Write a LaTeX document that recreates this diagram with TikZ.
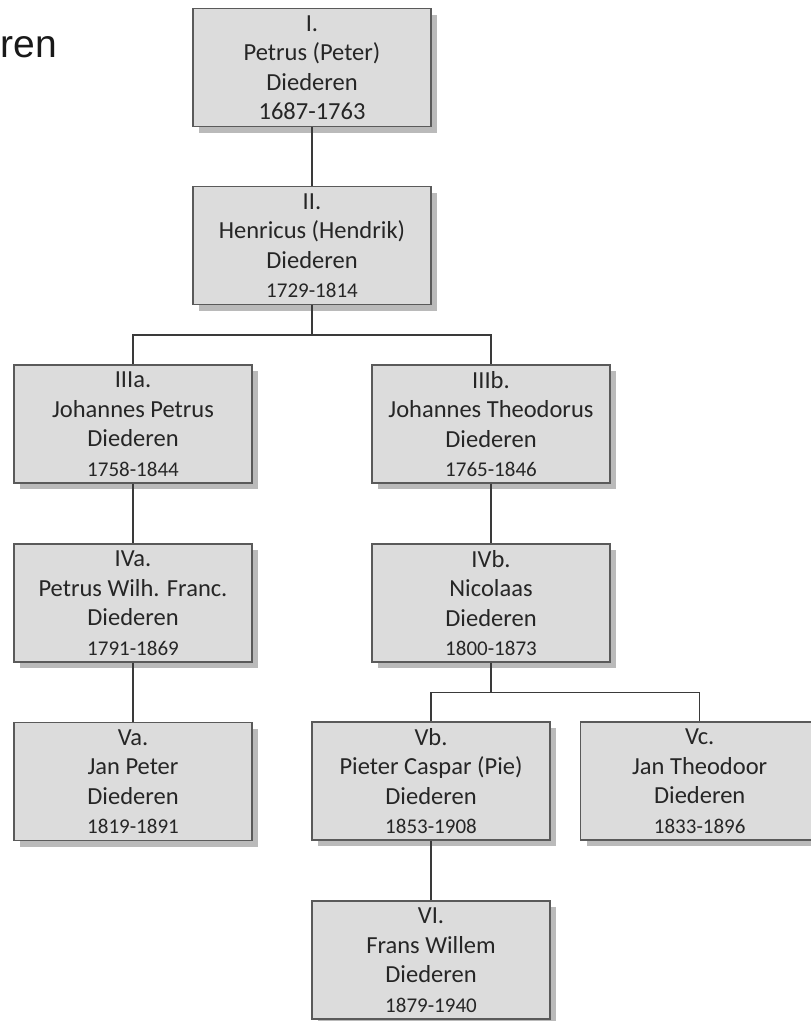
\documentclass[tikz,border=0pt]{standalone}
\usepackage{fontspec}
\setmainfont{Carlito}
\newfontfamily\titlefont{Liberation Sans}
\usetikzlibrary{shadows}
\definecolor{boxfill}{HTML}{DCDCDC}
\definecolor{boxline}{HTML}{5A5A5A}
\definecolor{shadec}{HTML}{BABABA}
\definecolor{linkc}{HTML}{3A3A3A}
\definecolor{txtc}{HTML}{262626}
\newcommand\yrsmall{\fontsize{21}{29.5}\selectfont}
\begin{document}
\begin{tikzpicture}[x=1pt,y=-1pt,
  person/.style={draw=boxline, line width=1.4pt, fill=boxfill,
    minimum width=238pt, minimum height=118pt, inner sep=0pt,
    align=center, text=txtc, font=\fontsize{24.5}{29.5}\selectfont,
    drop shadow={shadow xshift=6pt, shadow yshift=-6pt, fill=shadec, opacity=1}},
  link/.style={draw=linkc, line width=1.5pt}]
\useasboundingbox (0,0) rectangle (811,1021);
\clip (0,0) rectangle (811,1021);
\fill[white] (0,0) rectangle (811,1021);

\node[font=\titlefont\fontsize{39}{39}\selectfont, anchor=base west,
  inner sep=0pt, text=black!90] (title) at (0.5,57) {ren};

\node[person] (i)    at (312,67.5)  {I.\\Petrus (Peter)\\Diederen\\1687-1763};
\node[person] (ii)   at (312,245.5) {II.\\Henricus (Hendrik)\\Diederen\\{\yrsmall 1729-1814}};
\node[person] (iiia) at (133,424)   {IIIa.\\Johannes Petrus\\Diederen\\{\yrsmall 1758-1844}};
\node[person] (iiib) at (491,424)   {IIIb.\\Johannes Theodorus\\Diederen\\{\yrsmall 1765-1846}};
\node[person] (iva)  at (133,603)   {IVa.\\Petrus Wilh. Franc.\\Diederen\\{\yrsmall 1791-1869}};
\node[person] (ivb)  at (491,603)   {IVb.\\Nicolaas\\Diederen\\{\yrsmall 1800-1873}};
\node[person] (va)   at (133,781.5) {Va.\\Jan Peter\\Diederen\\{\yrsmall 1819-1891}};
\node[person] (vb)   at (431,781)   {Vb.\\Pieter Caspar (Pie)\\Diederen\\{\yrsmall 1853-1908}};
\node[person] (vc)   at (699.7,781) {Vc.\\Jan Theodoor\\Diederen\\{\yrsmall 1833-1896}};
\node[person] (vi)   at (431,960)   {VI.\\Frans Willem\\Diederen\\{\yrsmall 1879-1940}};

\coordinate (j1) at (312,335);
\coordinate (j2) at (491,692.5);

\draw[link] (i.south) -- (ii.north);
\draw[link] (ii.south) -- (j1);
\draw[link] (iiia.north) |- (j1) -| (iiib.north);
\draw[link] (iiia.south) -- (iva.north);
\draw[link] (iiib.south) -- (ivb.north);
\draw[link] (iva.south) -- (va.north);
\draw[link] (ivb.south) -- (j2);
\draw[link] (vb.north) |- (j2) -| (vc.north);
\draw[link] (vb.south) -- (vi.north);
\end{tikzpicture}
\end{document}
